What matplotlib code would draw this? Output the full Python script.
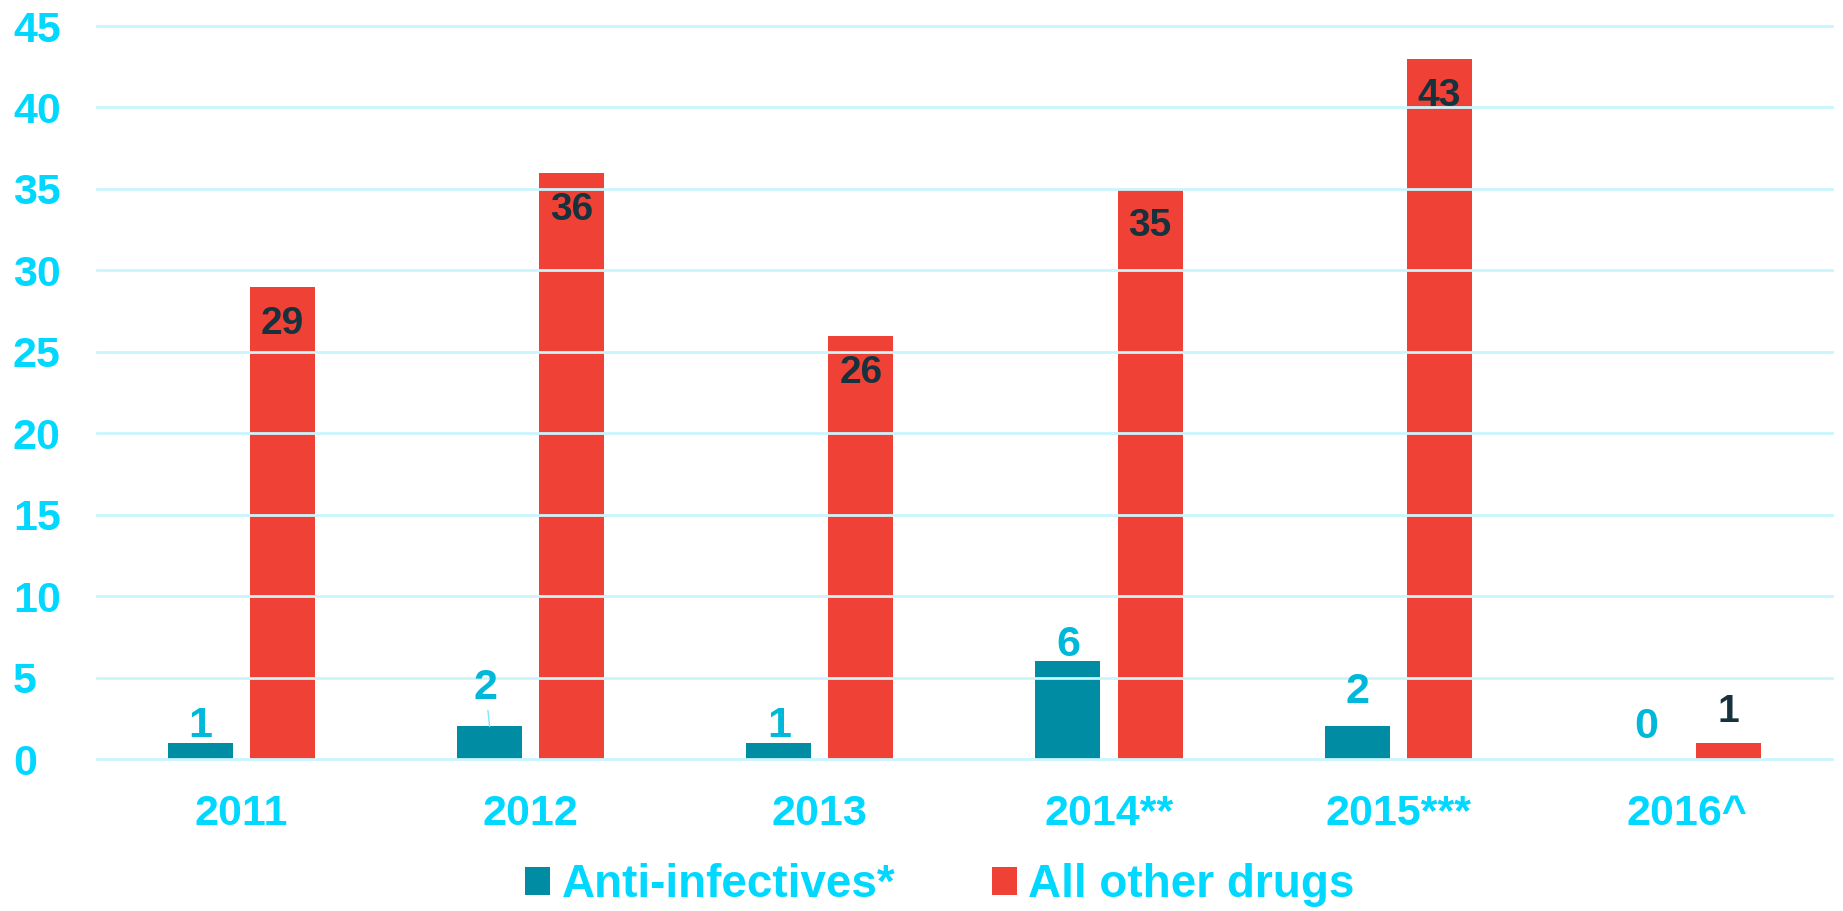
import numpy as np
import matplotlib.pyplot as plt
from matplotlib.patches import Patch

plt.rcParams['font.family'] = ['Liberation Sans', 'DejaVu Sans']
plt.rcParams['font.weight'] = 'bold'

years = ['2011', '2012', '2013', '2014**', '2015***', '2016^']
anti_infectives = [1, 2, 1, 6, 2, 0]
other_drugs = [29, 36, 26, 35, 43, 1]
series_names = ['Anti-infectives*', 'All other drugs']

teal = '#008ca3'
red = '#ef4136'
tick_col = '#00d8ff'
lab_teal = '#00b8d9'
lab_dark = '#17323d'
grid_col = '#c9f5fc'

# vertical offset (points) of each teal label centre above its bar
teal_lab_off = [12, 28, 12, 12, 25, 23]

fig = plt.figure(figsize=(18.43, 9.11), dpi=100)
ax = fig.add_axes([0.0526, 0.1668, 0.9414, 0.8046])

x = np.arange(len(years))
w = 0.225
off = 0.142
ax.bar(x - off, anti_infectives, w, color=teal, zorder=2)
ax.bar(x + off, other_drugs, w, color=red, zorder=2)

ax.set_xlim(-0.5, len(years) - 0.5)
ax.set_ylim(0, 45)
ax.set_yticks(range(0, 46, 5))
ax.grid(axis='y', color=grid_col, linewidth=2, zorder=3)
ax.set_axisbelow(False)
for gl in ax.get_ygridlines():
    gl.set_clip_on(False)
    gl.set_zorder(3)
for s in ax.spines.values():
    s.set_visible(False)

ax.tick_params(axis='both', length=0)
ax.tick_params(axis='y', pad=60.5, labelsize=31, labelcolor=tick_col)
ax.tick_params(axis='x', pad=25, labelsize=31, labelcolor=tick_col)
ax.set_xticks(x)
ax.set_xticklabels(years)
for t in ax.get_yticklabels():
    t.set_horizontalalignment('left')
    t.set_fontweight('bold')
for t in ax.get_xticklabels():
    t.set_fontweight('bold')

# labels for teal bars (above)
for i, v in enumerate(anti_infectives):
    if i == 1:
        # leader line for 2012
        ax.annotate(str(v), xy=(x[i] - off, v), xytext=(-3, teal_lab_off[i]), textcoords='offset points',
                    ha='center', va='center', fontsize=31, color=lab_teal, fontweight='bold',
                    arrowprops=dict(arrowstyle='-', color='#7fe6fa', lw=1, shrinkA=0, shrinkB=0),
                    zorder=5)
    else:
        ax.annotate(str(v), xy=(x[i] - off, v), xytext=(0, teal_lab_off[i]),
                    textcoords='offset points', ha='center', va='center',
                    fontsize=31, color=lab_teal, fontweight='bold', zorder=5)

# labels for red bars (inside top, except tiny one)
for i, v in enumerate(other_drugs):
    dy = 22 if v < 5 else -27
    ax.annotate(str(v), xy=(x[i] + off, v), xytext=(0, dy), textcoords='offset points',
                ha='center', va='center', fontsize=28, color=lab_dark, fontweight='bold', zorder=5)

handles = [Patch(facecolor=teal), Patch(facecolor=red)]
leg = fig.legend(handles, series_names, loc='center', bbox_to_anchor=(0.51, 0.028), ncol=2,
                 frameon=False, fontsize=33, handlelength=0.55, handleheight=0.55,
                 handletextpad=0.25, columnspacing=2.1, borderaxespad=0)
for t in leg.get_texts():
    t.set_color(tick_col)
    t.set_fontweight('bold')

fig.savefig('out.png', dpi=100)
